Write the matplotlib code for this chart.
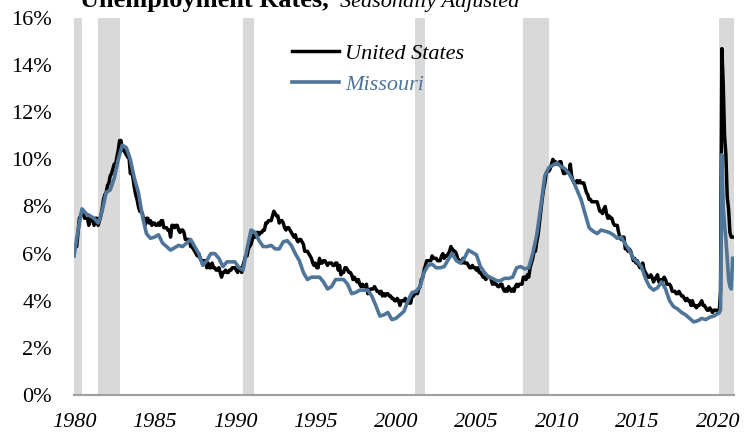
import matplotlib
matplotlib.use("Agg")
import matplotlib.pyplot as plt
import numpy as np

# US unemployment rate, monthly, Jan 1980 - Dec 2020 (%)
us_rate = [
    6.3, 6.3, 6.3, 6.9, 7.5, 7.6, 7.8, 7.7, 7.5, 7.5, 7.5, 7.2,
    7.5, 7.4, 7.4, 7.2, 7.5, 7.5, 7.2, 7.4, 7.6, 7.9, 8.3, 8.5,
    8.6, 8.9, 9.0, 9.3, 9.4, 9.6, 9.8, 9.8, 10.1, 10.4, 10.8, 10.8,
    10.4, 10.4, 10.3, 10.2, 10.1, 10.1, 9.4, 9.5, 9.2, 8.8, 8.5, 8.3,
    8.0, 7.8, 7.8, 7.7, 7.4, 7.2, 7.5, 7.5, 7.3, 7.4, 7.2, 7.3,
    7.3, 7.2, 7.2, 7.3, 7.2, 7.4, 7.4, 7.1, 7.1, 7.1, 7.0, 7.0,
    6.7, 7.2, 7.2, 7.1, 7.2, 7.2, 7.0, 6.9, 7.0, 7.0, 6.9, 6.6,
    6.6, 6.6, 6.6, 6.3, 6.3, 6.2, 6.1, 6.0, 5.9, 6.0, 5.8, 5.7,
    5.7, 5.7, 5.7, 5.4, 5.6, 5.4, 5.4, 5.6, 5.4, 5.4, 5.3, 5.3,
    5.4, 5.2, 5.0, 5.2, 5.2, 5.3, 5.2, 5.2, 5.3, 5.3, 5.4, 5.4,
    5.4, 5.3, 5.2, 5.4, 5.4, 5.2, 5.5, 5.7, 5.9, 5.9, 6.2, 6.3,
    6.4, 6.6, 6.8, 6.7, 6.9, 6.9, 6.8, 6.9, 6.9, 7.0, 7.0, 7.3,
    7.3, 7.4, 7.4, 7.4, 7.6, 7.8, 7.7, 7.6, 7.6, 7.3, 7.4, 7.4,
    7.3, 7.1, 7.0, 7.1, 7.1, 7.0, 6.9, 6.8, 6.7, 6.8, 6.6, 6.5,
    6.6, 6.6, 6.5, 6.4, 6.1, 6.1, 6.1, 6.0, 5.9, 5.8, 5.6, 5.5,
    5.6, 5.4, 5.4, 5.8, 5.6, 5.6, 5.7, 5.7, 5.6, 5.5, 5.6, 5.6,
    5.6, 5.5, 5.5, 5.6, 5.6, 5.3, 5.5, 5.1, 5.2, 5.2, 5.4, 5.4,
    5.3, 5.2, 5.2, 5.1, 4.9, 5.0, 4.9, 4.8, 4.9, 4.7, 4.6, 4.7,
    4.6, 4.6, 4.7, 4.3, 4.4, 4.5, 4.5, 4.5, 4.6, 4.5, 4.4, 4.4,
    4.3, 4.4, 4.2, 4.3, 4.2, 4.3, 4.3, 4.2, 4.2, 4.1, 4.1, 4.0,
    4.0, 4.1, 4.0, 3.8, 4.0, 4.0, 4.0, 4.1, 3.9, 3.9, 3.9, 3.9,
    4.2, 4.2, 4.3, 4.4, 4.3, 4.5, 4.6, 4.9, 5.0, 5.3, 5.5, 5.7,
    5.7, 5.7, 5.7, 5.9, 5.8, 5.8, 5.8, 5.7, 5.7, 5.7, 5.9, 6.0,
    5.8, 5.9, 5.9, 6.0, 6.1, 6.3, 6.2, 6.1, 6.1, 6.0, 5.8, 5.7,
    5.7, 5.6, 5.8, 5.6, 5.6, 5.6, 5.5, 5.4, 5.4, 5.5, 5.4, 5.4,
    5.3, 5.4, 5.2, 5.2, 5.1, 5.0, 5.0, 4.9, 5.0, 5.0, 5.0, 4.9,
    4.7, 4.8, 4.7, 4.7, 4.6, 4.6, 4.7, 4.7, 4.5, 4.4, 4.5, 4.4,
    4.6, 4.5, 4.4, 4.5, 4.4, 4.6, 4.7, 4.6, 4.7, 4.7, 4.7, 5.0,
    5.0, 4.9, 5.1, 5.0, 5.4, 5.6, 5.8, 6.1, 6.1, 6.5, 6.8, 7.3,
    7.8, 8.3, 8.7, 9.0, 9.4, 9.5, 9.5, 9.6, 9.8, 10.0, 9.9, 9.9,
    9.8, 9.8, 9.9, 9.9, 9.6, 9.4, 9.4, 9.5, 9.5, 9.4, 9.8, 9.3,
    9.1, 9.0, 9.0, 9.1, 9.0, 9.1, 9.0, 9.0, 9.0, 8.8, 8.6, 8.5,
    8.3, 8.3, 8.2, 8.2, 8.2, 8.2, 8.2, 8.0, 7.8, 7.8, 7.7, 7.9,
    8.0, 7.7, 7.5, 7.6, 7.5, 7.5, 7.3, 7.2, 7.2, 7.2, 6.9, 6.7,
    6.6, 6.7, 6.7, 6.2, 6.3, 6.1, 6.2, 6.1, 5.9, 5.7, 5.8, 5.6,
    5.7, 5.5, 5.4, 5.4, 5.6, 5.3, 5.2, 5.1, 5.0, 5.0, 5.1, 5.0,
    4.8, 4.9, 5.0, 5.1, 4.8, 4.9, 4.8, 4.9, 5.0, 4.9, 4.7, 4.7,
    4.7, 4.6, 4.4, 4.4, 4.4, 4.3, 4.3, 4.4, 4.3, 4.2, 4.2, 4.1,
    4.0, 4.1, 4.0, 4.0, 3.8, 4.0, 3.8, 3.8, 3.7, 3.8, 3.8, 3.9,
    4.0, 3.8, 3.8, 3.7, 3.6, 3.6, 3.7, 3.6, 3.5, 3.6, 3.6, 3.6,
    3.5, 3.5, 4.4, 14.7, 13.2, 11.0, 10.2, 8.4, 7.9, 6.9, 6.7, 6.7,
]

# Missouri at quarterly steps 1980Q1 - 2019Q4 (%)
mo_quarterly = [
    5.9, 7.0, 7.9, 7.7,   7.6, 7.5, 7.3, 7.8,   8.6, 8.7, 9.2, 10.0,
    10.6, 10.5, 10.0, 9.2,   8.6, 7.6, 6.85, 6.65,   6.7, 6.8, 6.45, 6.3,
    6.15, 6.25, 6.35, 6.3,   6.45, 6.6, 6.3, 6.0,   5.5, 5.7, 6.0, 6.0,
    5.8, 5.45, 5.65, 5.65,   5.65, 5.4, 5.3, 6.2,   7.0, 6.9, 6.55, 6.3,
    6.3, 6.35, 6.2, 6.2,   6.5, 6.55, 6.35, 6.0,   5.7, 5.2, 4.9, 5.0,
    5.0, 5.0, 4.8, 4.5,   4.6, 4.9, 4.9, 4.9,   4.7, 4.3, 4.35, 4.45,
    4.45, 4.45, 4.2, 3.8,   3.35, 3.4, 3.5, 3.2,   3.25, 3.4, 3.55, 4.0,
    4.35, 4.4, 4.6, 5.2,   5.5, 5.55, 5.4, 5.4,   5.45, 5.75, 6.0, 5.7,
    5.6, 5.8, 6.15, 6.05,   5.95, 5.45, 5.2, 5.0,   4.95, 4.85, 4.85, 4.95,
    4.95, 5.0, 5.4, 5.45,   5.35, 5.4, 6.0, 6.8,   8.0, 9.3, 9.65, 9.75,
    9.85, 9.7, 9.6, 9.4,   9.1, 8.7, 8.3, 7.7,   7.1, 6.95, 6.85, 7.0,
    6.95, 6.9, 6.8, 6.65,   6.7, 6.4, 6.15, 5.8,   5.65, 5.45, 4.95, 4.6,
    4.45, 4.55, 4.8, 4.5,   4.0, 3.75, 3.65, 3.5,   3.4, 3.25, 3.1, 3.15,
    3.25, 3.2, 3.3, 3.35,
]
# Missouri, monthly 2020 (%)
mo_2020 = [3.45, 3.5, 3.6, 10.2, 8.0, 7.2, 6.6, 5.8, 4.9, 4.6, 4.5, 5.8]

# recessions (start, end) in fractional years
recession_start = [1980.0, 1981.5, 1990.5, 2001.17, 2007.92, 2020.08]
recession_end = [1980.5, 1982.83, 1991.17, 2001.83, 2009.5, 2021.0]

year_ticks = [1980, 1985, 1990, 1995, 2000, 2005, 2010, 2015, 2020]
pct_ticks = [0, 2, 4, 6, 8, 10, 12, 14, 16]

serif = "Liberation Serif"
us_color = "black"
mo_color = "#4f7599"


def main():
    fig = plt.figure(figsize=(7.52, 4.38), dpi=100)
    ax = fig.add_axes([0.0984, 0.0982, 0.976 - 0.0984, 0.9589 - 0.0982])

    for s, e in zip(recession_start, recession_end):
        ax.axvspan(s, e, color="#d9d9d9", lw=0, zorder=0)

    us_x = 1980 + np.arange(len(us_rate)) / 12
    mo_x = np.concatenate(
        [1980 + np.arange(len(mo_quarterly)) / 4, 2020 + np.arange(len(mo_2020)) / 12]
    )
    mo_y = list(mo_quarterly) + list(mo_2020)

    ax.plot(us_x, us_rate, color=us_color, lw=2.5, label="United States", zorder=2)
    ax.plot(mo_x, mo_y, color=mo_color, lw=2.6, label="Missouri", zorder=3)

    ax.set_xlim(1980, 2021)
    ax.set_ylim(0, 16)
    ax.set_xticks(year_ticks)
    ax.set_xticklabels([str(y) for y in year_ticks], family=serif, style="italic", fontsize=16)
    ax.set_yticks(pct_ticks)
    ax.set_yticklabels(["%d%%" % p for p in pct_ticks], family=serif, fontsize=16)
    ax.tick_params(axis="both", length=0)
    ax.tick_params(axis="y", pad=16)
    ax.tick_params(axis="x", pad=13)

    for side in ["top", "right", "left"]:
        ax.spines[side].set_visible(False)
    ax.spines["bottom"].set_color("#a0a0a0")
    ax.spines["bottom"].set_linewidth(1.5)
    ax.spines["bottom"].set_zorder(4)

    ax.legend(
        loc="upper left",
        bbox_to_anchor=(0.30, 0.985),
        frameon=False,
        prop={"family": serif, "style": "italic", "size": 16},
        labelcolor="linecolor",
        handlelength=2.1,
        handletextpad=0.3,
        labelspacing=0.45,
    )

    fig.text(80 / 752, 1 - 7 / 438, "Unemployment Rates,", family=serif,
             weight="bold", fontsize=19, va="baseline", ha="left")
    fig.text(340 / 752, 1 - 7 / 438, "Seasonally Adjusted", family=serif,
             style="italic", fontsize=16, va="baseline", ha="left")

    fig.savefig("out.png", dpi=100)


if __name__ == "__main__":
    main()
